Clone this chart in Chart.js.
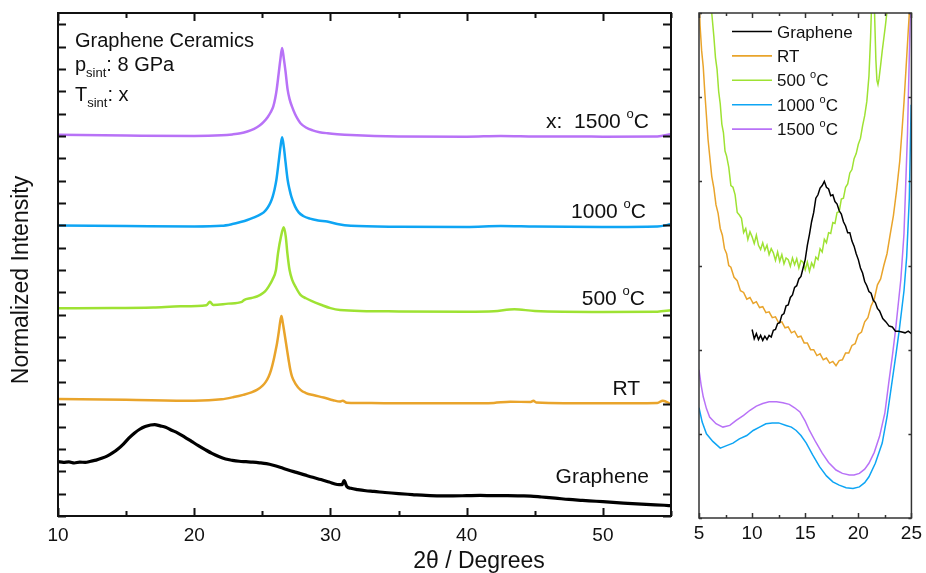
<!DOCTYPE html>
<html>
<head>
<meta charset="utf-8">
<script src="https://cdn.jsdelivr.net/npm/chart.js@4.4.0/dist/chart.umd.min.js"></script>
<style>
  html, body { margin: 0; padding: 0; background: #fff; }
  #wrap { position: relative; width: 926px; height: 573px; overflow: hidden; }
  #main { position: absolute; left: 0; top: 0; }
  #inset { position: absolute; left: 680px; top: 0; }
</style>
</head>
<body>
<div id="wrap">
  <canvas id="main" width="690" height="573"></canvas>
  <canvas id="inset" width="246" height="573"></canvas>
</div>
<script>
'use strict'
// ---- data (main panel: 2theta vs stacked normalized intensity) ----
var seriesNames = ['Graphene', 'RT', '500 °C', '1000 °C', '1500 °C'];
var seriesColors = ['#000000', '#E9A42B', '#9EE233', '#0EA5F4', '#B872F7'];
var curveLabels = ['Graphene', 'RT', '500 °C', '1000 °C', 'x:  1500 °C'];

var grapheneX = [10.0, 10.4, 10.8, 11.2, 11.6, 12.0, 12.4, 12.8, 13.2, 13.6, 14.0, 14.4, 14.8, 15.2, 15.6, 16.0, 16.4, 16.8, 17.1, 17.5, 17.9, 18.3, 18.8, 19.3, 19.8, 20.3, 20.8, 21.3, 21.8, 22.3, 22.8, 23.3, 23.8, 24.3, 24.8, 25.3, 25.8, 26.3, 26.9, 27.5, 28.1, 28.7, 29.3, 29.9, 30.5, 30.85, 31.0, 31.2, 31.5, 32.0, 32.6, 33.2, 34.0, 35.0, 36.0, 37.0, 38.0, 39.0, 40.0, 41.0, 42.0, 43.0, 44.0, 44.7, 45.5, 46.5, 47.5, 48.5, 49.5, 50.5, 51.5, 52.5, 53.5, 54.5, 55.0];
var grapheneY = [2.43, 2.40, 2.42, 2.37, 2.41, 2.40, 2.45, 2.50, 2.58, 2.68, 2.82, 3.00, 3.22, 3.48, 3.70, 3.88, 4.00, 4.07, 4.09, 4.03, 3.97, 3.85, 3.71, 3.53, 3.34, 3.15, 2.97, 2.80, 2.66, 2.55, 2.49, 2.45, 2.43, 2.41, 2.38, 2.34, 2.27, 2.18, 2.06, 1.95, 1.84, 1.73, 1.63, 1.52, 1.41, 1.40, 1.58, 1.32, 1.24, 1.18, 1.13, 1.10, 1.05, 1.00, 0.96, 0.92, 0.90, 0.90, 0.91, 0.92, 0.91, 0.91, 0.90, 0.89, 0.85, 0.80, 0.74, 0.70, 0.66, 0.62, 0.58, 0.54, 0.51, 0.48, 0.46];

var rtX = [10, 15, 20, 22.0, 22.9, 23.6, 24.2, 24.6, 25.0, 25.25, 25.46, 25.65, 25.83, 25.95, 26.08, 26.2, 26.3, 26.4, 26.5, 26.62, 26.74, 26.84, 26.93, 27.05, 27.18, 27.45, 27.8, 28.2, 28.8, 29.5, 30.2, 30.7, 30.9, 31.2, 33, 35, 40, 42, 43.2, 44.7, 44.9, 45.1, 50, 54, 54.4, 55];
var rtY = [5.23, 5.20, 5.16, 5.22, 5.32, 5.42, 5.53, 5.64, 5.82, 6.00, 6.23, 6.55, 6.98, 7.33, 7.73, 8.20, 8.65, 8.95, 8.65, 8.20, 7.73, 7.33, 6.98, 6.55, 6.23, 5.90, 5.64, 5.50, 5.40, 5.30, 5.18, 5.12, 5.16, 5.07, 5.05, 5.04, 5.04, 5.06, 5.11, 5.10, 5.15, 5.08, 5.04, 5.06, 5.16, 5.00];

var c500X = [10, 14, 17, 19, 20.9, 21.15, 21.4, 22.5, 23.5, 23.65, 24.2, 24.6, 24.85, 25.2, 25.46, 25.75, 26.0, 26.15, 26.37, 26.57, 26.72, 26.84, 27.0, 27.2, 27.43, 27.8, 28.2, 28.6, 29.3, 30.0, 30.7, 35, 40, 42, 43.5, 45, 50, 54, 55];
var c500Y = [9.29, 9.30, 9.33, 9.38, 9.43, 9.58, 9.44, 9.50, 9.58, 9.66, 9.75, 9.82, 9.89, 10.05, 10.26, 10.58, 11.00, 11.75, 12.50, 12.92, 12.50, 11.75, 11.00, 10.55, 10.26, 9.89, 9.74, 9.62, 9.45, 9.30, 9.22, 9.15, 9.14, 9.16, 9.25, 9.17, 9.13, 9.14, 9.20];

var c1000X = [10, 15, 20, 22.0, 22.8, 23.4, 23.9, 24.4, 24.8, 25.1, 25.4, 25.6, 25.76, 25.9, 26.03, 26.2, 26.33, 26.45, 26.58, 26.7, 26.86, 27.0, 27.13, 27.4, 27.67, 28.0, 28.5, 29.1, 29.76, 30.5, 31.5, 35, 40, 42.5, 45, 50, 54, 55];
var c1000Y = [12.99, 12.97, 12.95, 12.98, 13.06, 13.15, 13.24, 13.36, 13.47, 13.58, 13.80, 14.02, 14.29, 14.62, 15.03, 15.85, 16.50, 16.94, 16.50, 15.85, 15.03, 14.60, 14.29, 13.85, 13.58, 13.42, 13.30, 13.22, 13.17, 13.06, 12.98, 12.94, 12.93, 12.97, 12.95, 12.93, 12.95, 13.05];

var c1500X = [10, 15, 20, 22.0, 22.8, 23.4, 23.9, 24.4, 24.8, 25.1, 25.4, 25.6, 25.8, 25.95, 26.05, 26.2, 26.32, 26.45, 26.58, 26.7, 26.86, 27.0, 27.18, 27.4, 27.6, 27.8, 28.2, 28.7, 29.2, 29.8, 30.5, 31.5, 35, 40, 42.5, 45, 50, 54, 55];
var c1500Y = [17.05, 17.02, 17.00, 17.03, 17.07, 17.12, 17.20, 17.32, 17.47, 17.63, 17.85, 18.05, 18.31, 18.70, 19.06, 19.80, 20.40, 20.93, 20.45, 19.90, 19.06, 18.65, 18.31, 17.98, 17.75, 17.57, 17.38, 17.25, 17.17, 17.12, 17.08, 17.04, 16.98, 16.97, 17.00, 16.98, 16.97, 16.98, 17.08];

// ---- data (inset: low-angle zoom) ----
var insetGrapheneX = [10.0, 10.2, 10.4, 10.6, 10.8, 11.0, 11.2, 11.4, 11.6, 11.8, 12.0, 12.2, 12.4, 12.6, 12.8, 13.0, 13.2, 13.4, 13.6, 13.8, 14.0, 14.2, 14.4, 14.6, 14.8, 15.0, 15.2, 15.4, 15.6, 15.8, 16.0, 16.2, 16.4, 16.6, 16.8, 17.0, 17.2, 17.4, 17.6, 17.8, 18.0, 18.2, 18.4, 18.6, 18.8, 19.0, 19.2, 19.4, 19.6, 19.8, 20.0, 20.2, 20.4, 20.6, 20.8, 21.0, 21.2, 21.4, 21.6, 21.8, 22.0, 22.3, 22.6, 22.9, 23.2, 23.5, 23.8, 24.1, 24.4, 24.7, 25.0];
var insetGrapheneY = [2.24, 2.13, 2.19, 2.12, 2.17, 2.11, 2.16, 2.12, 2.17, 2.15, 2.23, 2.24, 2.31, 2.32, 2.41, 2.43, 2.52, 2.53, 2.62, 2.65, 2.74, 2.76, 2.84, 2.87, 2.97, 3.07, 3.24, 3.37, 3.52, 3.63, 3.80, 3.84, 3.92, 3.95, 4.00, 3.93, 3.91, 3.83, 3.84, 3.76, 3.73, 3.65, 3.61, 3.52, 3.47, 3.39, 3.39, 3.29, 3.23, 3.14, 3.07, 2.97, 2.91, 2.81, 2.76, 2.69, 2.67, 2.59, 2.56, 2.49, 2.46, 2.37, 2.33, 2.28, 2.27, 2.22, 2.22, 2.21, 2.20, 2.22, 2.19];

var insetRtX = [4.95, 5.1, 5.25, 5.4, 5.55, 5.7, 5.85, 6.0, 6.2, 6.4, 6.6, 6.8, 7.0, 7.2, 7.4, 7.6, 7.8, 8.0, 8.3, 8.6, 8.9, 9.2, 9.5, 9.8, 10.1, 10.4, 10.7, 11.0, 11.3, 11.6, 11.9, 12.2, 12.5, 12.8, 13.1, 13.4, 13.7, 14.0, 14.3, 14.6, 14.9, 15.2, 15.5, 15.8, 16.1, 16.4, 16.7, 17.0, 17.3, 17.6, 17.9, 18.2, 18.5, 18.8, 19.1, 19.4, 19.7, 20.0, 20.3, 20.6, 20.9, 21.2, 21.5, 21.8, 22.1, 22.4, 22.7, 23.0, 23.3, 23.6, 23.9, 24.1, 24.3, 24.5, 24.7, 24.85, 25.0];
var insetRtY = [6.40, 5.85, 5.55, 5.36, 5.05, 4.78, 4.50, 4.31, 4.06, 3.92, 3.72, 3.62, 3.44, 3.36, 3.20, 3.14, 3.00, 2.98, 2.86, 2.82, 2.70, 2.68, 2.60, 2.62, 2.55, 2.57, 2.50, 2.51, 2.44, 2.45, 2.38, 2.39, 2.32, 2.33, 2.26, 2.27, 2.20, 2.22, 2.15, 2.16, 2.08, 2.08, 2.00, 2.00, 1.93, 1.95, 1.88, 1.90, 1.84, 1.86, 1.81, 1.87, 1.88, 1.96, 1.96, 2.05, 2.07, 2.18, 2.21, 2.33, 2.38, 2.52, 2.60, 2.77, 2.84, 3.00, 3.14, 3.37, 3.59, 3.89, 4.24, 4.58, 4.94, 5.36, 5.79, 6.10, 6.50];

var insetC500X = [5.9, 6.2, 6.4, 6.55, 6.7, 6.85, 7.0, 7.15, 7.3, 7.45, 7.6, 7.8, 8.0, 8.2, 8.4, 8.6, 8.8, 9.0, 9.2, 9.4, 9.6, 9.8, 10.0, 10.2, 10.4, 10.6, 10.8, 11.0, 11.2, 11.4, 11.6, 11.8, 12.0, 12.2, 12.4, 12.6, 12.8, 13.0, 13.2, 13.4, 13.6, 13.8, 14.0, 14.2, 14.4, 14.6, 14.8, 15.0, 15.2, 15.4, 15.6, 15.8, 16.0, 16.2, 16.4, 16.6, 16.8, 17.0, 17.2, 17.4, 17.6, 17.8, 18.0, 18.2, 18.4, 18.6, 18.8, 19.0, 19.2, 19.4, 19.6, 19.8, 20.0, 20.2, 20.4, 20.6, 20.8, 21.0, 21.15, 21.3, 21.45, 21.55, 21.65, 21.75, 21.85, 21.95, 22.1, 22.25, 22.4, 22.55, 22.7, 22.9];
var insetC500Y = [6.50, 6.00, 5.72, 5.47, 5.33, 5.07, 4.92, 4.68, 4.58, 4.36, 4.30, 4.17, 3.95, 3.93, 3.84, 3.63, 3.60, 3.56, 3.39, 3.44, 3.31, 3.40, 3.34, 3.26, 3.36, 3.24, 3.19, 3.27, 3.18, 3.24, 3.13, 3.20, 3.15, 3.06, 3.16, 3.05, 3.13, 3.02, 3.09, 3.07, 2.99, 3.09, 3.01, 3.08, 2.97, 3.06, 3.04, 2.95, 3.04, 2.93, 3.03, 2.98, 3.10, 3.07, 3.20, 3.16, 3.31, 3.27, 3.39, 3.38, 3.51, 3.50, 3.63, 3.64, 3.79, 3.80, 3.93, 3.97, 4.10, 4.14, 4.27, 4.33, 4.44, 4.51, 4.66, 4.78, 4.95, 5.25, 5.70, 6.30, 6.40, 5.90, 5.45, 5.20, 5.15, 5.22, 5.38, 5.55, 5.70, 5.85, 6.02, 6.30];

var insetC1000X = [5.0, 5.3, 5.7, 6.3, 7.0, 7.6, 8.2, 8.8, 9.5, 10.1, 10.7, 11.3, 11.9, 12.5, 13.2, 13.7, 14.15, 14.6, 15.1, 15.7, 16.35, 17.0, 17.6, 18.2, 18.85, 19.5, 20.1, 20.6, 21.0, 21.6, 22.25, 22.7, 23.2, 23.55, 23.85, 24.3, 24.55, 24.8, 24.97, 25.05];
var insetC1000Y = [1.31, 1.14, 1.00, 0.91, 0.83, 0.86, 0.89, 0.94, 0.98, 1.04, 1.08, 1.12, 1.13, 1.13, 1.10, 1.08, 1.04, 0.98, 0.89, 0.75, 0.61, 0.50, 0.43, 0.39, 0.36, 0.35, 0.37, 0.42, 0.49, 0.65, 0.89, 1.20, 1.64, 1.95, 2.23, 2.70, 3.10, 3.80, 4.90, 6.20];

var insetC1500X = [5.0, 5.2, 5.4, 5.7, 6.0, 6.6, 7.25, 7.9, 8.5, 9.2, 9.8, 10.4, 11.0, 11.6, 12.3, 12.9, 13.5, 14.0, 14.5, 15.0, 15.4, 16.0, 16.6, 17.2, 17.9, 18.5, 19.15, 19.6, 20.1, 20.6, 21.0, 21.5, 22.0, 22.5, 22.9, 23.2, 23.5, 24.0, 24.3, 24.63, 24.85, 24.95];
var insetC1500Y = [1.76, 1.58, 1.44, 1.30, 1.20, 1.12, 1.08, 1.10, 1.16, 1.22, 1.28, 1.33, 1.36, 1.38, 1.38, 1.37, 1.35, 1.31, 1.26, 1.15, 1.04, 0.90, 0.77, 0.66, 0.57, 0.53, 0.51, 0.51, 0.53, 0.58, 0.65, 0.78, 0.97, 1.25, 1.64, 1.92, 2.23, 2.83, 3.38, 4.57, 5.76, 6.30];

var FONT = '"Liberation Sans", Arial, sans-serif';

function toPoints(xs, ys) {
  return xs.map(function (x, i) { return { x: x, y: ys[i] }; });
}

// draws text where '°' becomes a raised small "o", and {sub} parts are lowered
function drawParts(ctx, parts, x, y, size, align) {
  var small = Math.round(size * 0.63);
  var widths = parts.map(function (p) {
    ctx.font = ((p.sup || p.sub) ? small : size) + 'px ' + FONT;
    return ctx.measureText(p.t).width;
  });
  var total = widths.reduce(function (a, b) { return a + b; }, 0);
  var cx = align === 'right' ? x - total : (align === 'center' ? x - total / 2 : x);
  ctx.textAlign = 'left';
  ctx.textBaseline = 'alphabetic';
  parts.forEach(function (p, i) {
    ctx.font = ((p.sup || p.sub) ? small : size) + 'px ' + FONT;
    var dy = p.sup ? -size * 0.47 : (p.sub ? size * 0.3 : 0);
    ctx.fillText(p.t, cx, y + dy);
    cx += widths[i];
  });
}

function degreeParts(label) {
  var bits = label.split('°');
  if (bits.length === 1) return [{ t: label }];
  return [{ t: bits[0] }, { t: 'o', sup: true }, { t: bits[1] }];
}

// inward ticks and box frame
function framePlugin(opts) {
  return {
    id: 'frame',
    afterDatasetsDraw: function (chart) {
      var ctx = chart.ctx, a = chart.chartArea;
      var xs = chart.scales.x, ys = chart.scales.y;
      ctx.save();
      ctx.strokeStyle = opts.color;
      ctx.lineWidth = opts.width;
      ctx.beginPath();
      xs.ticks.forEach(function (t) {
        var px = Math.round(xs.getPixelForValue(t.value)) + 0.5;
        var len = t.label !== '' ? opts.major : opts.minor;
        ctx.moveTo(px, a.bottom); ctx.lineTo(px, a.bottom - len);
        ctx.moveTo(px, a.top); ctx.lineTo(px, a.top + len);
      });
      ys.ticks.forEach(function (t) {
        var py = Math.round(ys.getPixelForValue(t.value)) + 0.5;
        ctx.moveTo(a.left, py); ctx.lineTo(a.left + opts.yLen, py);
        ctx.moveTo(a.right, py); ctx.lineTo(a.right - opts.yLen, py);
      });
      ctx.stroke();
      ctx.strokeRect(a.left, a.top, a.right - a.left, a.bottom - a.top);
      ctx.restore();
    }
  };
}

var mainText = {
  id: 'mainText',
  afterDraw: function (chart) {
    var ctx = chart.ctx;
    ctx.save();
    ctx.fillStyle = '#111';
    drawParts(ctx, [{ t: 'Graphene Ceramics' }], 75, 47, 20, 'left');
    drawParts(ctx, [{ t: 'p' }, { t: 'sint', sub: true }, { t: ': 8 GPa' }], 75, 71, 20, 'left');
    drawParts(ctx, [{ t: 'T' }, { t: 'sint', sub: true }, { t: ': x' }], 75, 101, 20, 'left');

    var labelPos = [[649, 483], [640, 395], [645, 305], [646, 218], [649, 128]];
    curveLabels.forEach(function (lab, i) {
      drawParts(ctx, degreeParts(lab), labelPos[i][0], labelPos[i][1], 21, 'right');
    });

    // axis titles
    ctx.font = '23px ' + FONT;
    ctx.textAlign = 'center';
    ctx.textBaseline = 'alphabetic';
    ctx.fillText('2\u03b8 / Degrees', 479, 568);
    ctx.translate(21.5, 280);
    ctx.rotate(-Math.PI / 2);
    ctx.textBaseline = 'middle';
    ctx.fillText('Normalized Intensity', 0, 0);
    ctx.restore();
  }
};

var insetLegend = {
  id: 'insetLegend',
  afterDraw: function (chart) {
    var ctx = chart.ctx;
    ctx.save();
    seriesNames.forEach(function (name, i) {
      var y = 31.5 + i * 24.4;
      ctx.strokeStyle = seriesColors[i];
      ctx.lineWidth = 1.6;
      ctx.beginPath();
      ctx.moveTo(52, y); ctx.lineTo(92, y);
      ctx.stroke();
      ctx.fillStyle = '#111';
      drawParts(ctx, degreeParts(name), 97, y + 6, 17, 'left');
    });
    ctx.restore();
  }
};

var mainSets = [
  [grapheneX, grapheneY], [rtX, rtY], [c500X, c500Y], [c1000X, c1000Y], [c1500X, c1500Y]
].map(function (s, i) {
  return {
    label: seriesNames[i],
    data: toPoints(s[0], s[1]),
    borderColor: seriesColors[i],
    borderWidth: i === 0 ? 3.2 : 2.5,
    pointRadius: 0,
    cubicInterpolationMode: 'monotone',
    clip: 0
  };
});

new Chart(document.getElementById('main'), {
  type: 'line',
  data: { datasets: mainSets },
  options: {
    responsive: false,
    animation: false,
    devicePixelRatio: 1,
    layout: { padding: { left: 0, top: 13, right: 19, bottom: 0 } },
    plugins: { legend: { display: false }, tooltip: { enabled: false } },
    scales: {
      x: {
        type: 'linear', min: 10, max: 55,
        grid: { display: false, drawTicks: false },
        border: { display: false },
        ticks: {
          stepSize: 5, includeBounds: false, autoSkip: false, maxRotation: 0, padding: 8,
          color: '#111', font: { family: FONT, size: 19 },
          callback: function (v) { return v % 10 === 0 ? String(v) : ''; }
        },
        afterFit: function (scale) { scale.height = 57; }
      },
      y: {
        type: 'linear', min: 0, max: 22.5,
        grid: { display: false, drawTicks: false },
        border: { display: false },
        ticks: { display: false, stepSize: 1, includeBounds: false },
        afterFit: function (scale) { scale.width = 58; }
      }
    }
  },
  plugins: [framePlugin({ color: '#111', width: 2, major: 8, minor: 5, yLen: 8 }), mainText]
});

var insetSets = [
  [insetGrapheneX, insetGrapheneY], [insetRtX, insetRtY], [insetC500X, insetC500Y],
  [insetC1000X, insetC1000Y], [insetC1500X, insetC1500Y]
].map(function (s, i) {
  return {
    label: seriesNames[i],
    data: toPoints(s[0], s[1]),
    borderColor: seriesColors[i],
    borderWidth: 1.5,
    pointRadius: 0,
    tension: 0,
    clip: 0
  };
});

new Chart(document.getElementById('inset'), {
  type: 'line',
  data: { datasets: insetSets },
  options: {
    responsive: false,
    animation: false,
    devicePixelRatio: 1,
    layout: { padding: { left: 0, top: 13, right: 14, bottom: 0 } },
    plugins: { legend: { display: false }, tooltip: { enabled: false } },
    scales: {
      x: {
        type: 'linear', min: 5, max: 25,
        grid: { display: false, drawTicks: false },
        border: { display: false },
        ticks: {
          stepSize: 2.5, includeBounds: false, autoSkip: false, maxRotation: 0, padding: 4,
          color: '#111', font: { family: FONT, size: 19 },
          callback: function (v) { return v % 5 === 0 ? String(v) : ''; }
        },
        afterFit: function (scale) { scale.height = 55; }
      },
      y: {
        type: 'linear', min: 0, max: 6,
        grid: { display: false, drawTicks: false },
        border: { display: false },
        ticks: { display: false, stepSize: 1, includeBounds: false },
        afterFit: function (scale) { scale.width = 19; }
      }
    }
  },
  plugins: [framePlugin({ color: '#333', width: 1.5, major: 5, minor: 3, yLen: 3 }), insetLegend]
});
</script>
</body>
</html>
